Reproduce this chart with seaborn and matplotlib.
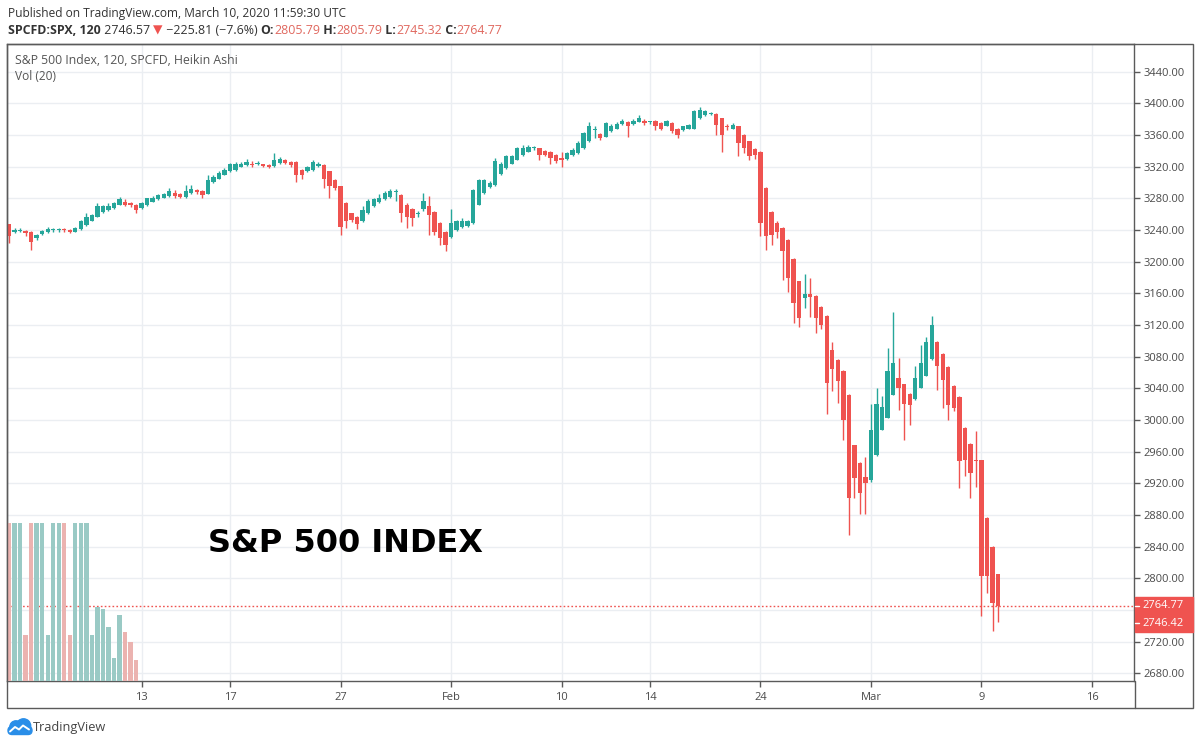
import numpy as np
import pandas as pd
import seaborn as sns
import matplotlib.pyplot as plt
from matplotlib.patches import Rectangle, Circle, FancyBboxPatch
from matplotlib.lines import Line2D
from matplotlib.ticker import FuncFormatter

# Heikin Ashi candles, SPCFD:SPX 120 min (one row = 10 bars)
ha_open = [3247, 3238, 3239, 3239, 3238, 3230, 3235, 3237, 3240, 3240,
           3241, 3240, 3238, 3241, 3246, 3252, 3257, 3263, 3265, 3268,
           3272, 3275, 3274, 3272, 3268, 3271, 3276, 3279, 3281, 3283,
           3287, 3285, 3282, 3287, 3290, 3289, 3286, 3301, 3305, 3310,
           3314, 3316, 3320, 3322, 3324, 3323, 3323, 3322, 3321, 3325,
           3328, 3326, 3326, 3316, 3314, 3316, 3321, 3322, 3314, 3303,
           3295, 3274, 3261, 3257, 3252, 3261, 3270, 3275, 3279, 3282,
           3288, 3284, 3272, 3266, 3260, 3266, 3270, 3263, 3249, 3238,
           3231, 3240, 3244, 3245, 3249, 3272, 3287, 3294, 3297, 3311,
           3318, 3324, 3329, 3335, 3339, 3343, 3343, 3340, 3339, 3335,
           3331, 3330, 3335, 3337, 3343, 3352, 3366, 3361, 3358, 3365,
           3368, 3374, 3377, 3374, 3377, 3378, 3376, 3378, 3375, 3372,
           3375, 3368, 3366, 3368, 3368, 3381, 3385, 3387, 3387, 3381,
           3371, 3368, 3371, 3360, 3352, 3342, 3339, 3293, 3263, 3249,
           3242, 3228, 3204, 3175, 3154, 3159, 3157, 3143, 3132, 3089,
           3076, 3062, 3032, 2968, 2946, 2928, 2924, 2956, 2988, 3003,
           3032, 3053, 3045, 3033, 3026, 3041, 3056, 3077, 3099, 3084,
           3067, 3043, 3029, 2990, 2970, 2950, 2949, 2876, 2840, 2805.79]
ha_high = [3248, 3243, 3242, 3240, 3239, 3235, 3240, 3244, 3243, 3243,
           3243, 3241, 3244, 3253, 3262, 3260, 3274, 3272, 3274, 3276,
           3282, 3279, 3275, 3273, 3275, 3281, 3283, 3286, 3287, 3293,
           3291, 3287, 3297, 3297, 3292, 3290, 3310, 3309, 3314, 3318,
           3325, 3326, 3326, 3330, 3327, 3327, 3324, 3324, 3337, 3332,
           3330, 3327, 3327, 3317, 3321, 3328, 3326, 3323, 3315, 3304,
           3296, 3275, 3262, 3258, 3270, 3279, 3281, 3286, 3289, 3292,
           3292, 3286, 3274, 3268, 3264, 3287, 3283, 3264, 3250, 3239,
           3266, 3253, 3255, 3253, 3292, 3305, 3305, 3302, 3331, 3326,
           3335, 3335, 3345, 3347, 3347, 3346, 3344, 3341, 3340, 3336,
           3338, 3338, 3343, 3352, 3364, 3377, 3371, 3362, 3376, 3374,
           3376, 3380, 3378, 3380, 3385, 3380, 3378, 3379, 3376, 3379,
           3376, 3369, 3372, 3374, 3391, 3395, 3392, 3389, 3388, 3382,
           3374, 3375, 3372, 3361, 3353, 3343, 3340, 3294, 3264, 3252,
           3244, 3229, 3205, 3176, 3184, 3180, 3158, 3144, 3133, 3098,
           3077, 3063, 3033, 2969, 2947, 2953, 3020, 3041, 3030, 3091,
           3137, 3078, 3046, 3034, 3068, 3095, 3105, 3131, 3100, 3085,
           3068, 3044, 3030, 2991, 2971, 2986, 2950, 2877, 2841, 2805.79]
ha_low = [3223, 3236, 3237, 3233, 3215, 3228, 3234, 3236, 3238, 3237,
          3238, 3236, 3237, 3240, 3245, 3251, 3256, 3262, 3264, 3267,
          3271, 3270, 3269, 3261, 3267, 3270, 3275, 3278, 3280, 3282,
          3281, 3280, 3281, 3286, 3286, 3281, 3285, 3300, 3304, 3309,
          3313, 3315, 3319, 3321, 3319, 3322, 3319, 3318, 3320, 3324,
          3324, 3320, 3301, 3304, 3313, 3315, 3320, 3293, 3280, 3290,
          3234, 3243, 3250, 3241, 3250, 3260, 3269, 3274, 3278, 3281,
          3277, 3250, 3243, 3245, 3257, 3264, 3234, 3234, 3221, 3213,
          3230, 3239, 3243, 3244, 3248, 3271, 3286, 3293, 3296, 3310,
          3317, 3323, 3328, 3334, 3338, 3341, 3329, 3333, 3323, 3325,
          3320, 3329, 3334, 3336, 3342, 3351, 3356, 3354, 3357, 3364,
          3367, 3373, 3358, 3373, 3376, 3373, 3374, 3366, 3366, 3371,
          3362, 3356, 3365, 3367, 3367, 3380, 3384, 3385, 3360, 3339,
          3366, 3367, 3333, 3337, 3329, 3330, 3232, 3215, 3221, 3230,
          3177, 3162, 3122, 3118, 3141, 3130, 3110, 3115, 3007, 3037,
          3022, 2975, 2855, 2902, 2881, 2881, 2922, 2955, 2987, 3002,
          3031, 3013, 2975, 2994, 3025, 3040, 3055, 3076, 3038, 3015,
          3000, 3012, 2914, 2929, 2902, 2916, 2752, 2782, 2733, 2745.32]
ha_close = [3232, 3240, 3240, 3236, 3225, 3234, 3239, 3241, 3241, 3241,
            3240, 3237, 3243, 3251, 3257, 3259, 3270, 3270, 3270, 3274,
            3279, 3272, 3272, 3265, 3274, 3280, 3281, 3284, 3285, 3289,
            3283, 3282, 3289, 3292, 3288, 3284, 3303, 3307, 3312, 3316,
            3323, 3323, 3324, 3326, 3322, 3324, 3321, 3320, 3329, 3330,
            3325, 3322, 3310, 3310, 3320, 3326, 3323, 3305, 3295, 3293,
            3244, 3251, 3253, 3247, 3265, 3277, 3279, 3281, 3287, 3289,
            3289, 3262, 3256, 3255, 3261, 3277, 3259, 3238, 3230, 3221,
            3249, 3251, 3251, 3251, 3291, 3303, 3303, 3300, 3327, 3324,
            3333, 3333, 3343, 3343, 3345, 3343.5, 3335, 3335, 3331, 3327,
            3329, 3337, 3341, 3350, 3362, 3371, 3367, 3356, 3375, 3372,
            3374, 3378, 3371, 3378, 3381, 3375, 3376.5, 3371, 3368, 3378,
            3365, 3360, 3371, 3373, 3390, 3392, 3390, 3387.5, 3373, 3360,
            3370, 3373, 3350, 3343, 3333, 3335, 3249, 3232, 3234, 3238,
            3213, 3179, 3148, 3129, 3159, 3156, 3129, 3120, 3047, 3065,
            3049, 3000, 2902, 2927, 2908, 2921, 2988, 3020, 3017, 3062,
            3072, 3040, 3020, 3019, 3053, 3072, 3099, 3120, 3068, 3051,
            3019, 3015, 2948, 2950, 2933, 2948, 2803, 2803, 2769, 2764.77]

# Vol (20) pane - only the first bars are still drawn
volume = [60, 60, 60, 17.5, 60, 60, 60, 17.5, 60, 60,
          60, 17.5, 60, 60, 60, 17.5, 28, 27.3, 20.5, 8.7,
          25, 18.6, 14.8, 8.0]

date_bars = [24, 40, 60, 80, 100, 116, 136, 156, 176, 196]
date_labels = ['13', '17', '27', 'Feb', '10', '14', '24', 'Mar', '9', '16']
price_ticks = list(range(2680, 3441, 40))

last_close = 2764.77
last_price = 2746.42

# ---------------------------------------------------------------
sns.set_theme(style='white')
plt.rcParams['font.family'] = ['Open Sans', 'DejaVu Sans']

W, H = 1200, 745
fig = plt.figure(figsize=(12, 7.45), dpi=100)


def fx(x):
    return x / W


def fy(y):
    return 1 - y / H


up_c, dn_c = '#26a69a', '#ef5350'
frame_c = '#5a5a5a'
txt_c = '#4a4a4a'

ax = fig.add_axes([fx(7), fy(681), (1134 - 7) / W, (681 - 44) / H])

df = pd.DataFrame({'bar': np.arange(len(ha_close)), 'open': ha_open,
                   'high': ha_high, 'low': ha_low, 'close': ha_close})
df['up'] = df['close'] >= df['open']
colors = np.where(df['up'], up_c, dn_c)

ax.vlines(df['bar'], df['low'], df['high'], colors=colors, lw=1, zorder=3)
body = (df['close'] - df['open']).abs().clip(lower=1.3)
ax.bar(df['bar'], body, bottom=df[['open', 'close']].min(axis=1),
       width=0.78, color=colors, lw=0, zorder=4)

ax.axhline(last_close, color=dn_c, ls=(0, (1.2, 1.6)), lw=1, zorder=2)

# volume overlay
axv = ax.twinx()
vdf = pd.DataFrame({'bar': df['bar'][:len(volume)], 'vol': volume,
                    'dir': np.where(df['up'][:len(volume)], 'up', 'down')})
sns.barplot(data=vdf, x='bar', y='vol', hue='dir',
            palette={'up': '#92d2cc', 'down': '#f5aaa6'},
            native_scale=True, dodge=False, width=0.78, errorbar=None,
            legend=False, linewidth=0, ax=axv)
axv.set_ylim(0, 60 * 637 / 158)
axv.set_axis_off()

ax.set_xlim(-0.36, 203.6)
axv.set_xlim(-0.36, 203.6)
ax.set_ylim(2670.3, 3475)


def price_fmt(v, pos):
    # the 2760 label sits under the last-price tag
    return '' if abs(v - 2760) < 1 else f'{v:.2f}'


ax.set_xticks(date_bars, date_labels)
ax.set_yticks(price_ticks)
ax.yaxis.tick_right()
ax.yaxis.set_major_formatter(FuncFormatter(price_fmt))
ax.grid(True, color='#ebeef2', lw=1)
ax.set_axisbelow(True)
ax.tick_params(axis='y', length=4, width=1, color=frame_c, labelcolor=txt_c,
               labelsize=8, pad=3)
ax.tick_params(axis='x', length=4, width=1, color=frame_c, labelcolor=txt_c,
               labelsize=8, pad=4, bottom=True)
for s in ax.spines.values():
    s.set_color(frame_c)
    s.set_linewidth(1)
ax.set_xlabel('')
ax.set_ylabel('')

# outer frame of the widget
fig.add_artist(Rectangle((fx(7), fy(708)), (1193 - 7) / W, (708 - 44) / H,
                         transform=fig.transFigure, fill=False, ec=frame_c, lw=1))
fig.add_artist(Line2D([fx(1134.5), fx(1134.5)], [fy(681), fy(708)],
                      transform=fig.transFigure, color=frame_c, lw=1))

# last price tag
fig.add_artist(Rectangle((fx(1135), fy(632)), (1193 - 1135) / W, (632 - 597) / H,
                         transform=fig.transFigure, color=dn_c, zorder=10))
for yy, val in [(606, last_close), (623, last_price)]:
    fig.add_artist(Line2D([fx(1135), fx(1139)], [fy(yy), fy(yy)],
                          transform=fig.transFigure, color='white', lw=1, zorder=11))
    fig.text(fx(1142), fy(yy), f'{val:.2f}', color='white', size=8,
             va='center', zorder=11)

# header lines
fig.text(fx(8), fy(17), 'Published on TradingView.com, March 10, 2020 11:59:30 UTC',
         size=8.6, color='#333333', va='baseline')

rend = fig.canvas.get_renderer()
val_c = '#e0685f'
parts = [('SPCFD:SPX, 120', '#333333', 'bold'), (' 2746.57 ', '#333333', 'normal'),
         ('▼', dn_c, 'normal'), (' −225.81 (−7.6%) ', '#333333', 'normal'),
         ('O:', '#333333', 'bold'), ('2805.79', val_c, 'normal'),
         (' H:', '#333333', 'bold'), ('2805.79', val_c, 'normal'),
         (' L:', '#333333', 'bold'), ('2745.32', val_c, 'normal'),
         (' C:', '#333333', 'bold'), ('2764.77', val_c, 'normal')]
xpos = 8
for s, col, wt in parts:
    t = fig.text(fx(xpos), fy(33.5), s, color=col, weight=wt, size=8.9, va='baseline')
    xpos += t.get_window_extent(renderer=rend).width

fig.text(fx(15), fy(63.5), 'S&P 500 Index, 120, SPCFD, Heikin Ashi',
         size=8.8, color='#555555', va='baseline')
fig.text(fx(15), fy(80.5), 'Vol (20)', size=8.6, color='#555555', va='baseline')

fig.text(fx(208), fy(551.7), 'S&P 500 INDEX', family='DejaVu Sans',
         weight='bold', size=23, color='black', va='baseline')

# TradingView logo
lax = fig.add_axes([fx(7), fy(736), 26 / W, 19 / H])
lax.set_xlim(0, 26)
lax.set_ylim(0, 19)
lax.set_axis_off()
blue = '#2a8ee8'
lax.add_patch(FancyBboxPatch((1, 1.5), 24, 8, boxstyle='round,pad=0,rounding_size=4',
                             color=blue))
lax.add_patch(Circle((9, 9), 6.2, color=blue))
lax.add_patch(Circle((16.5, 10), 7.2, color=blue))
lax.plot([3, 8, 12, 16, 22], [4.5, 9, 6.5, 10.5, 6.5], color='white', lw=1.4)
fig.text(fx(33), fy(731.5), 'TradingView', size=9.2, color='#444444', va='baseline')

fig.savefig('out.png', dpi=100)
